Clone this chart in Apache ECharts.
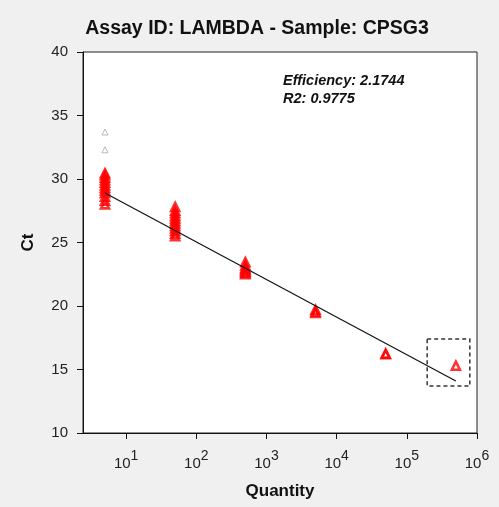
<!DOCTYPE html>
<html>
<head>
<meta charset="utf-8">
<script src="https://cdn.jsdelivr.net/npm/echarts@6/dist/echarts.min.js"></script>
<style>
html,body{margin:0;padding:0;background:#f0f0f0;}
#chart{width:499px;height:507px;}
</style>
</head>
<body>
<div id="chart"></div>
<script>
// ---- data ----
const quantities = [5, 50, 500, 5000, 50000, 500000];
const ctReplicates = [
  [28.0, 28.3, 28.6, 28.9, 29.1, 29.3, 29.5, 29.7, 29.9, 30.1, 30.3, 30.45],
  [25.5, 25.7, 25.9, 26.1, 26.3, 26.5, 26.7, 26.9, 27.1, 27.3, 27.5, 27.8],
  [22.5, 22.6, 22.7, 22.8, 22.9, 23.0, 23.2, 23.45],
  [19.45, 19.55, 19.7],
  [16.2, 16.25],
  [15.3]
];
const outlierQuantities = [5, 5];
const outlierCt = [33.7, 32.3];
const fitQuantities = [5, 500000];
const fitCt = [28.9, 14.1];
const boxQuantity = [195000, 790000];
const boxCt = [17.4, 13.7];
const xTickValues = [10, 100, 1000, 10000, 100000, 1000000];
const titleText = 'Assay ID: LAMBDA - Sample: CPSG3';
const annotationLines = ['Efficiency: 2.1744', 'R2: 0.9775'];

// ---- build ----
const redPoints = [];
quantities.forEach((q, i) => ctReplicates[i].forEach(ct => redPoints.push([q, ct])));
const grayPoints = outlierQuantities.map((q, i) => [q, outlierCt[i]]);
const fitLine = fitQuantities.map((q, i) => [q, fitCt[i]]);

const FONT = '"Liberation Sans", Arial, sans-serif';
const chart = echarts.init(document.getElementById('chart'), null, {renderer: 'canvas'});
chart.setOption({
  animation: false,
  backgroundColor: '#f0f0f0',
  textStyle: {fontFamily: FONT},
  title: [{
    text: titleText,
    left: 257, top: 18, textAlign: 'center', padding: 0,
    textStyle: {fontFamily: FONT, fontSize: 19.5, fontWeight: 'bold', color: '#111', lineHeight: 22}
  }, {
    text: annotationLines.join('\n'),
    left: 283, top: 72, padding: 0,
    textStyle: {fontFamily: FONT, fontSize: 14.5, fontWeight: 'bold', fontStyle: 'italic', color: '#111', lineHeight: 18}
  }],
  grid: {
    left: 83, right: 22, top: 52, bottom: 74,
    show: true, backgroundColor: '#ffffff', borderColor: '#222', borderWidth: 1
  },
  xAxis: {
    type: 'log', logBase: 10, min: 2.43, max: 1000000,
    name: 'Quantity', nameLocation: 'middle', nameGap: 50,
    nameTextStyle: {fontFamily: FONT, fontSize: 17, fontWeight: 'bold', color: '#111'},
    axisLine: {show: true, lineStyle: {color: '#111', width: 1}},
    axisTick: {show: true, inside: false, length: 6, lineStyle: {color: '#111'}, customValues: xTickValues},
    splitLine: {show: false},
    axisLabel: {
      customValues: xTickValues,
      margin: 16,
      formatter: v => '{b|10}{s|' + Math.round(Math.log10(v)) + '}',
      rich: {
        b: {fontFamily: FONT, fontSize: 15, color: '#222', lineHeight: 22, verticalAlign: 'bottom'},
        s: {fontFamily: FONT, fontSize: 14, color: '#222', lineHeight: 14, verticalAlign: 'top'}
      }
    }
  },
  yAxis: {
    type: 'value', min: 10, max: 40, interval: 5,
    name: 'Ct', nameLocation: 'middle', nameGap: 46, nameRotate: 90,
    nameTextStyle: {fontFamily: FONT, fontSize: 17, fontWeight: 'bold', color: '#111'},
    axisLine: {show: true, lineStyle: {color: '#111', width: 1}},
    axisTick: {show: true, inside: false, length: 6, lineStyle: {color: '#111'}},
    splitLine: {show: false},
    axisLabel: {fontFamily: FONT, fontSize: 15, color: '#222', margin: 15}
  },
  series: [{
    type: 'scatter',
    data: grayPoints,
    symbol: 'triangle', symbolSize: 6,
    itemStyle: {color: 'rgba(0,0,0,0)', borderColor: '#a8a8a8', borderWidth: 1},
    z: 2
  }, {
    type: 'scatter',
    data: redPoints,
    symbol: 'triangle', symbolSize: 8,
    itemStyle: {color: 'rgba(0,0,0,0)', borderColor: '#ff0000', borderWidth: 2.6},
    z: 3,
    markArea: {
      silent: true,
      itemStyle: {color: 'rgba(0,0,0,0)', borderColor: '#333', borderWidth: 1.5, borderType: [4, 3]},
      data: [[{coord: [boxQuantity[0], boxCt[0]]}, {coord: [boxQuantity[1], boxCt[1]]}]]
    }
  }, {
    type: 'line',
    data: fitLine,
    showSymbol: false, symbol: 'none',
    lineStyle: {color: '#111', width: 1.2},
    z: 4
  }]
});
</script>
</body>
</html>
